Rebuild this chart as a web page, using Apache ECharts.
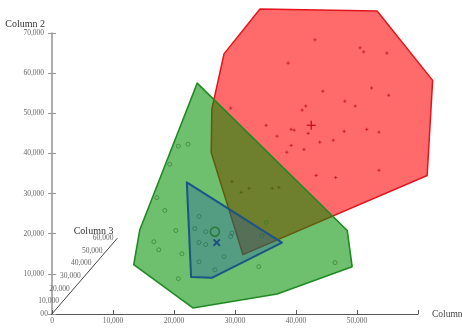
<!DOCTYPE html>
<html>
<head>
<meta charset="utf-8">
<script src="https://cdn.jsdelivr.net/npm/echarts@6/dist/echarts.min.js"></script>
<style>
  html, body { margin: 0; padding: 0; background: #fff; }
  #chart { width: 462px; height: 329px; }
</style>
</head>
<body>
<div id="chart"></div>
<script>
// Tick values for the three axes
const col1Ticks = [0, 10000, 20000, 30000, 40000, 50000, 60000];
const col2Ticks = [0, 10000, 20000, 30000, 40000, 50000, 60000, 70000];
const col3Ticks = [0, 10000, 20000, 30000, 40000, 50000, 60000];

// Convex hulls of each group, projected onto the Column 1 / Column 2 plane
const redHull = [[34100, 76000], [53300, 75500], [62400, 58200], [61500, 34500],
                 [31300, 14800], [26100, 40200], [26200, 51000], [28200, 64800]];
const greenHull = [[23800, 57500], [48400, 20800], [49200, 11800], [36900, 5000],
                   [23100, 1500], [13400, 12300], [14400, 21000]];
const blueHull = [[22100, 32800], [37700, 17800], [26200, 9000], [22800, 9200]];

// Projected observations per group
const redPoints = [
  [43100, 68300], [50500, 66300], [51100, 65300], [54900, 65000], [38700, 62500],
  [44400, 55500], [52400, 56300], [55200, 54500], [48000, 53000], [49700, 51800],
  [41600, 51800], [41000, 50800], [29300, 51300], [35100, 47000], [39200, 46000],
  [39700, 45800], [42000, 45000], [47900, 45500], [51600, 46000], [53600, 45300],
  [36900, 44300], [39200, 42000], [43900, 42800], [46100, 43300], [41300, 41000],
  [38500, 40300], [53600, 35800], [43300, 34500], [46500, 34000], [29500, 33000],
  [31000, 30300], [32300, 31300], [36100, 31300], [37200, 31500]
];
const greenPoints = [
  [20700, 41800], [22300, 42300], [19300, 37300], [17200, 29000], [18500, 25800],
  [20300, 20800], [16700, 18000], [17500, 16000], [21300, 15000], [20700, 8800],
  [35100, 22800], [33900, 11800], [46400, 12800]
];
const bluePoints = [
  [24100, 24300], [23400, 21300], [25200, 20500], [24100, 17800], [25200, 17300],
  [28200, 14300], [24100, 13000], [26700, 11000], [29300, 19300], [29500, 20200],
  [34400, 19500]
];

// Group centroids
const redCentroid = [[42500, 47000]];
const greenCentroid = [[26700, 20500]];
const blueCentroid = [[27000, 17800]];

// Direction of the receding Column 3 axis in Column 1 / Column 2 units
const col3Dir = [0.1787, 0.315];

const fmt = v => String(v).replace(/\B(?=(\d{3})+(?!\d))/g, ',');
const SERIF = '"Liberation Serif", "DejaVu Serif", serif';

function hullSeries(points, fill, stroke, width) {
  return {
    type: 'custom',
    coordinateSystem: 'cartesian2d',
    clip: false,
    silent: true,
    data: points,
    renderItem: function (params, api) {
      if (params.dataIndex !== 0) return null;
      return {
        type: 'polygon',
        shape: { points: points.map(p => api.coord(p)) },
        style: { fill: fill, stroke: stroke, lineWidth: width, lineJoin: 'round' }
      };
    }
  };
}

function crossSeries(data, size, color, width, diagonal) {
  return {
    type: 'custom',
    coordinateSystem: 'cartesian2d',
    clip: false,
    silent: true,
    data: data,
    renderItem: function (params, api) {
      const p = api.coord([api.value(0), api.value(1)]);
      const s = size;
      const segs = diagonal
        ? [[-s, -s, s, s], [-s, s, s, -s]]
        : [[-s, 0, s, 0], [0, -s, 0, s]];
      return {
        type: 'group',
        children: segs.map(d => ({
          type: 'line',
          shape: { x1: p[0] + d[0], y1: p[1] + d[1], x2: p[0] + d[2], y2: p[1] + d[3] },
          style: { stroke: color, lineWidth: width }
        }))
      };
    }
  };
}

function circleSeries(data, size, color, width) {
  return {
    type: 'scatter',
    clip: false,
    silent: true,
    symbol: 'circle',
    symbolSize: size,
    itemStyle: { color: 'rgba(0,0,0,0)', borderColor: color, borderWidth: width },
    data: data
  };
}

// Receding Column 3 axis drawn from the origin
const col3Axis = {
  type: 'custom',
  coordinateSystem: 'cartesian2d',
  clip: false,
  silent: true,
  data: col3Ticks.map(t => [t * col3Dir[0], t * col3Dir[1], t]),
  renderItem: function (params, api) {
    const t = api.value(2);
    const p = api.coord([api.value(0), api.value(1)]);
    const children = [{
      type: 'text',
      style: {
        x: p[0] - 4, y: p[1], text: fmt(t),
        align: 'right', verticalAlign: 'middle',
        fill: '#666', font: '7.5px ' + SERIF
      }
    }];
    if (params.dataIndex === 0) {
      const tEnd = col3Ticks[col3Ticks.length - 1];
      const q = api.coord([tEnd * col3Dir[0], tEnd * col3Dir[1]]);
      children.push({
        type: 'line',
        shape: { x1: p[0] - 1, y1: p[1] + 1, x2: q[0], y2: q[1] },
        style: { stroke: '#444', lineWidth: 1 }
      });
      children.push({
        type: 'text',
        style: {
          x: q[0] - 4, y: q[1] - 7, text: 'Column 3',
          align: 'right', verticalAlign: 'middle',
          fill: '#333', font: '10px ' + SERIF
        }
      });
    }
    return { type: 'group', children: children };
  }
};

const chart = echarts.init(document.getElementById('chart'), null, { renderer: 'canvas' });
chart.setOption({
  animation: false,
  backgroundColor: '#fff',
  grid: { left: 52, right: 44, top: 33, bottom: 15, containLabel: false, outerBoundsMode: 'none' },
  xAxis: [{
    type: 'value',
    min: col1Ticks[0], max: col1Ticks[col1Ticks.length - 1], interval: 10000,
    name: 'Column 1',
    nameLocation: 'end',
    nameGap: 14,
    nameTextStyle: { fontFamily: SERIF, fontSize: 9.5, color: '#444' },
    axisLine: { show: true, onZero: false, lineStyle: { color: '#555', width: 1 } },
    axisTick: { show: true, inside: true, length: 4, lineStyle: { color: '#555' } },
    axisLabel: {
      margin: 3, fontFamily: SERIF, fontSize: 7.5, color: '#666',
      formatter: v => (v === col1Ticks[col1Ticks.length - 1] ? '' : fmt(v))
    },
    splitLine: { show: false }
  }],
  yAxis: [{
    type: 'value',
    min: col2Ticks[0], max: col2Ticks[col2Ticks.length - 1], interval: 10000,
    position: 'left',
    name: 'Column 2',
    nameLocation: 'end',
    nameGap: 4,
    nameTextStyle: { fontFamily: SERIF, fontSize: 10, color: '#333', align: 'right', padding: [0, 7, 0, 0] },
    axisLine: { show: true, onZero: false, lineStyle: { color: '#999', width: 1.6 } },
    axisTick: { show: true, length: 4, lineStyle: { color: '#999' } },
    axisLabel: { margin: 8, fontFamily: SERIF, fontSize: 7.5, color: '#666', formatter: v => fmt(v) },
    splitLine: { show: false }
  }, {
    type: 'value',
    min: col2Ticks[0], max: col2Ticks[col2Ticks.length - 1], interval: 10000,
    position: 'left',
    offset: 0,
    axisLine: { show: false },
    axisTick: { show: true, inside: true, length: 4, lineStyle: { color: '#999' } },
    axisLabel: { show: false },
    splitLine: { show: false }
  }],
  series: [
    col3Axis,
    hullSeries(redHull, 'rgba(255,0,0,0.58)', '#e3141c', 1.5),
    crossSeries(redPoints, 1.6, '#c81e24', 0.9, false),
    crossSeries(redCentroid, 4.5, '#d0141c', 1.4, false),
    hullSeries(greenHull, 'rgba(0,143,0,0.57)', '#1f8a22', 1.6),
    circleSeries(greenPoints, 4, '#2c7a2c', 0.8),
    hullSeries(blueHull, 'rgba(30,80,180,0.3)', '#1d5486', 2),
    circleSeries(bluePoints, 4, '#2a6a55', 0.8),
    circleSeries(greenCentroid, 9, '#1a7420', 1.6),
    crossSeries(blueCentroid, 3.2, '#1d4f80', 1.8, true)
  ]
});
</script>
</body>
</html>
